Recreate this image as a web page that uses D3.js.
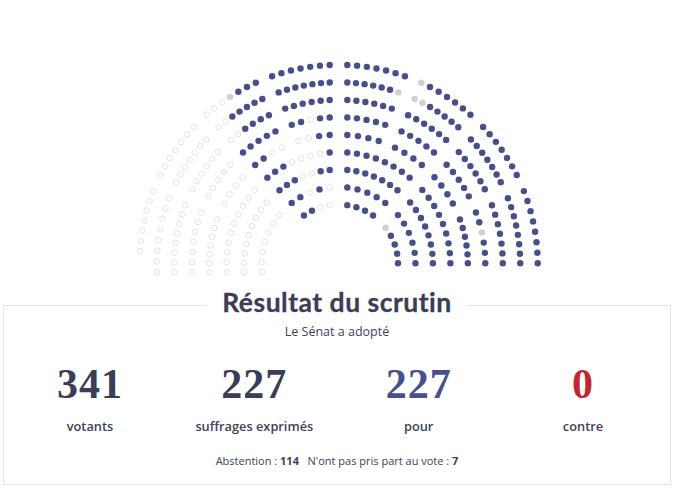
<!DOCTYPE html>
<html lang="fr">
<head>
<meta charset="utf-8">
<script src="https://d3js.org/d3.v7.min.js"></script>
<style>
html,body{margin:0;padding:0;background:#fff}
svg{display:block}
</style>
</head>
<body>
<svg id="c" width="680" height="490"></svg>
<script>
// Seat votes row by row (row 9 = outermost), wedge by wedge from the central axis outward.
// P = pour, A = abstention, N = non-participation
const rightRows = {
  9: ["PPPPPPP", "NPPPPPP", "PPPPPPP", "PPPPPPPP"],
  8: ["PPPPPPN", "NNPPPPP", "PPPPPPP", "PPPPPPPP"],
  7: ["PPPPPP", "PPPPPP", "PPPPPP", "PPPPPPP"],
  6: ["PPPPP", "PPPPP", "PPPPP", "PPNPPP"],
  5: ["PPPP", "PPPP", "PPPP", "PPPPPP"],
  4: ["PPPPPPPP", "PPPPPPPPP"],
  3: ["PPPPPPP", "PPPPPPPP"],
  2: ["PPPPP", "PPPPPP"],
  1: ["PPPP", "NPPPP"]
};
const leftRows = {
  9: ["PPPPPPP", "PPPNAAA", "AAAAAAA", "AAAAAAA"],
  8: ["PPPPPPP", "PPPPPAA", "AAAAAAA", "AAAAAAAA"],
  7: ["PPPPPP", "PPPPAA", "AAAAAA", "AAAAAAAA"],
  6: ["PPAPP", "PPPPP", "AAAAA", "AAAAAAA"],
  5: ["PPAA", "AAPP", "AAAA", "AAAAAAA"],
  4: ["PAAAAPPP", "AAAAAAAAAA"],
  3: ["PPAAPPP", "AAAAAAAAA"],
  2: ["APAPP", "AAAAAAA"],
  1: ["AAPP", ""]
};
const summary = [
  {value: "341", label: "votants", color: "#3a3d55"},
  {value: "227", label: "suffrages exprimés", color: "#3a3d55"},
  {value: "227", label: "pour", color: "#47508c"},
  {value: "0", label: "contre", color: "#c4242f"}
];
const titleText = "Résultat du scrutin";
const subtitleText = "Le Sénat a adopté";

// Layout
const cx = 338.5, cy = 264;
const rowRadius = d3.scaleLinear().domain([1, 9]).range([59.5, 199.2]);
const wedgeEdges = {upper: [0, 22, 44, 66, 90], lower: [0, 44, 90]};
const aisle = 8.8;
const toDeg = 180 / Math.PI, toRad = Math.PI / 180;

function runSeats(votes, row, side, wedge) {
  const r = rowRadius(row);
  const edges = rightRows[row].length === 4 ? wedgeEdges.upper : wedgeEdges.lower;
  const a0 = edges[wedge] + Math.asin(aisle / r) * toDeg;
  const last = wedge === edges.length - 2;
  let a1;
  if (!last) a1 = edges[wedge + 1] - Math.asin(aisle / r) * toDeg;
  else if (side > 0) a1 = 90 - Math.asin(0.7 / r) * toDeg;
  else if (row === 9) a1 = 86.3;
  else a1 = 90 + Math.asin(8.2 / r) * toDeg;
  const angle = d3.scaleLinear().domain([0, Math.max(1, votes.length - 1)]).range([a0, a1]);
  return Array.from(votes, (v, i) => {
    const [x, y] = d3.pointRadial(side * angle(i) * toRad, r);
    return {x: cx + x, y: cy + y, v};
  });
}
const seats = [];
[[rightRows, 1], [leftRows, -1]].forEach(([rows, side]) => {
  Object.keys(rows).forEach(k => {
    rows[k].forEach((votes, w) => seats.push(...runSeats(votes, +k, side, w)));
  });
});

const svg = d3.select("#c");
const fillOf = {P: "#474f8b", N: "#cfd0d3", A: "#fff"};
svg.append("g").selectAll("circle").data(seats).join("circle")
  .attr("cx", d => d.x).attr("cy", d => d.y)
  .attr("r", d => d.v === "A" ? 2.8 : 3.2)
  .attr("fill", d => fillOf[d.v])
  .attr("stroke", d => d.v === "A" ? "#e4e4e7" : "none")
  .attr("stroke-width", 1);

// Frame with a gap for the title
const frame = d3.path();
frame.moveTo(207, 305.5); frame.lineTo(3.5, 305.5); frame.lineTo(3.5, 484.5);
frame.lineTo(670.5, 484.5); frame.lineTo(670.5, 305.5); frame.lineTo(466.5, 305.5);
svg.append("path").attr("d", frame.toString()).attr("fill", "none")
  .attr("stroke", "#e2e3e6").attr("stroke-width", 1);

const sans = "'Open Sans', sans-serif";
svg.append("text").attr("x", 337).attr("y", 311.5).attr("text-anchor", "middle")
  .attr("font-family", "Lato, sans-serif").attr("font-weight", 700).attr("font-size", 26.5)
  .attr("letter-spacing", 0.5).attr("stroke", "#3a3d55").attr("stroke-width", 0.3)
  .attr("fill", "#3a3d55").text(titleText);
svg.append("text").attr("x", 337).attr("y", 335.5).attr("text-anchor", "middle")
  .attr("font-family", sans).attr("font-size", 12.5).attr("fill", "#3f4158").text(subtitleText);

const xCol = d3.scalePoint().domain(d3.range(summary.length)).range([90, 583]);
const col = svg.append("g").selectAll("g").data(summary).join("g");
col.append("text").attr("x", (d, i) => xCol(i)).attr("y", 397.5).attr("text-anchor", "middle")
  .attr("font-family", "'Liberation Serif', serif").attr("font-weight", 700).attr("font-size", 42)
  .attr("letter-spacing", 1).attr("fill", d => d.color).text(d => d.value);
col.append("text").attr("x", (d, i) => xCol(i)).attr("y", 430.5).attr("text-anchor", "middle")
  .attr("font-family", sans).attr("font-weight", 600).attr("font-size", 12.8)
  .attr("fill", "#3f4158").text(d => d.label);

const foot = svg.append("text").attr("x", 337).attr("y", 464.5).attr("text-anchor", "middle")
  .attr("font-family", sans).attr("font-size", 11).attr("fill", "#3f4158");
foot.append("tspan").text("Abstention : ");
foot.append("tspan").attr("font-weight", 700).text("114");
foot.append("tspan").text("\u00a0\u00a0\u00a0N'ont pas pris part au vote : ");
foot.append("tspan").attr("font-weight", 700).text("7");
</script>
</body>
</html>
